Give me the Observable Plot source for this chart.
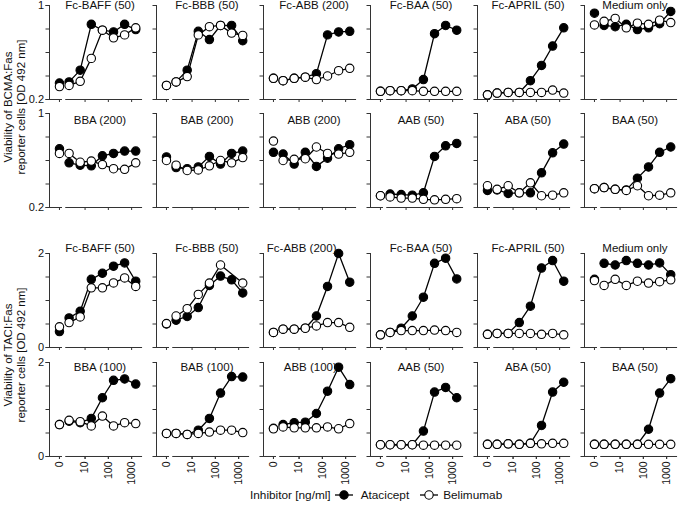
<!DOCTYPE html>
<html><head><meta charset="utf-8">
<script src="https://cdn.jsdelivr.net/npm/d3@7"></script>
<script src="https://cdn.jsdelivr.net/npm/@observablehq/plot@0.6"></script>
<style>
body{margin:0;background:#fff;font-family:"Liberation Sans",Arial,sans-serif;color:#111;}
#wrap{position:relative;width:683px;height:505px;overflow:hidden;}
#wrap svg{display:block;}
.ytitle{position:absolute;transform:translate(-50%,-50%) rotate(-90deg);font-size:11.5px;line-height:12.5px;text-align:center;white-space:nowrap;}
#legend{position:absolute;left:250px;top:488px;display:flex;align-items:center;font-size:11.8px;white-space:nowrap;}
#legend svg{display:inline-block;vertical-align:middle;}
</style></head>
<body><div id="wrap"></div>
<script>
// ---------- data ----------
const concentrations = [0, 2.06, 6.17, 18.5, 55.6, 167, 500, 1500]; // ng/ml
const xTickValues = [0, 10, 100, 1000];
const xTickLabels = ["0", "10", "100", "1000"];
const seriesNames = ["Atacicept", "Belimumab"];

const bcmaPanels = ["Fc-BAFF (50)", "Fc-BBB (50)", "Fc-ABB (200)", "Fc-BAA (50)", "Fc-APRIL (50)", "Medium only",
                    "BBA (200)", "BAB (200)", "ABB (200)", "AAB (50)", "ABA (50)", "BAA (50)"];
const taciPanels = ["Fc-BAFF (50)", "Fc-BBB (50)", "Fc-ABB (200)", "Fc-BAA (50)", "Fc-APRIL (50)", "Medium only",
                    "BBA (100)", "BAB (100)", "ABB (100)", "AAB (50)", "ABA (50)", "BAA (50)"];

const bcmaAtacicept = [
  [0.34, 0.35, 0.45, 0.84, 0.79, 0.775, 0.84, 0.795],
  [0.32, 0.35, 0.45, 0.78, 0.71, 0.83, 0.83, 0.70],
  [0.38, 0.36, 0.38, 0.39, 0.42, 0.75, 0.775, 0.78],
  [0.27, 0.275, 0.275, 0.29, 0.37, 0.76, 0.83, 0.79],
  [0.24, 0.255, 0.26, 0.26, 0.36, 0.49, 0.655, 0.81],
  [0.935, 0.83, 0.82, 0.84, 0.795, 0.81, 0.845, 0.95],
  [0.70, 0.58, 0.56, 0.555, 0.64, 0.66, 0.68, 0.68],
  [0.63, 0.54, 0.53, 0.545, 0.635, 0.57, 0.66, 0.68],
  [0.67, 0.655, 0.57, 0.67, 0.55, 0.62, 0.70, 0.735],
  [0.30, 0.315, 0.31, 0.305, 0.325, 0.635, 0.725, 0.745],
  [0.345, 0.35, 0.32, 0.325, 0.325, 0.495, 0.665, 0.74],
  [0.36, 0.37, 0.355, 0.35, 0.45, 0.545, 0.67, 0.715]
];
const bcmaBelimumab = [
  [0.31, 0.32, 0.355, 0.55, 0.79, 0.725, 0.75, 0.81],
  [0.32, 0.35, 0.395, 0.75, 0.82, 0.83, 0.765, 0.745],
  [0.38, 0.36, 0.38, 0.39, 0.37, 0.40, 0.445, 0.465],
  [0.27, 0.275, 0.275, 0.275, 0.27, 0.27, 0.27, 0.27],
  [0.24, 0.255, 0.26, 0.26, 0.26, 0.26, 0.28, 0.255],
  [0.835, 0.865, 0.89, 0.81, 0.85, 0.84, 0.875, 0.855],
  [0.66, 0.66, 0.585, 0.595, 0.565, 0.53, 0.525, 0.58],
  [0.60, 0.56, 0.515, 0.52, 0.555, 0.60, 0.58, 0.625],
  [0.765, 0.60, 0.61, 0.615, 0.715, 0.66, 0.655, 0.67],
  [0.30, 0.29, 0.28, 0.28, 0.27, 0.265, 0.27, 0.275],
  [0.385, 0.355, 0.385, 0.325, 0.41, 0.30, 0.305, 0.325],
  [0.36, 0.37, 0.355, 0.345, 0.385, 0.30, 0.305, 0.325]
];
const taciAtacicept = [
  [0.34, 0.63, 0.77, 1.45, 1.58, 1.73, 1.80, 1.41],
  [0.50, 0.58, 0.66, 0.85, 1.32, 1.52, 1.44, 1.16],
  [0.32, 0.39, 0.39, 0.41, 0.67, 1.30, 2.00, 1.39],
  [0.27, 0.32, 0.41, 0.67, 1.07, 1.79, 1.90, 1.46],
  [0.28, 0.30, 0.30, 0.53, 0.88, 1.69, 1.85, 1.41],
  [1.45, 1.79, 1.755, 1.85, 1.79, 1.755, 1.80, 1.55],
  [0.68, 0.75, 0.72, 0.81, 1.25, 1.62, 1.65, 1.54],
  [0.49, 0.49, 0.47, 0.56, 0.81, 1.35, 1.70, 1.69],
  [0.60, 0.68, 0.72, 0.73, 0.915, 1.39, 1.90, 1.53],
  [0.25, 0.25, 0.25, 0.25, 0.54, 1.37, 1.47, 1.25],
  [0.26, 0.26, 0.27, 0.26, 0.28, 0.66, 1.37, 1.58],
  [0.26, 0.26, 0.26, 0.26, 0.26, 0.58, 1.35, 1.655]
];
const taciBelimumab = [
  [0.44, 0.53, 0.65, 1.27, 1.27, 1.375, 1.48, 1.30],
  [0.51, 0.67, 0.825, 1.13, 1.37, 1.755, null, 1.37],
  [0.32, 0.39, 0.39, 0.41, 0.46, 0.53, 0.53, 0.43],
  [0.27, 0.32, 0.36, 0.36, 0.36, 0.37, 0.36, 0.32],
  [0.28, 0.30, 0.30, 0.30, 0.30, 0.28, 0.30, 0.27],
  [1.425, 1.32, 1.45, 1.32, 1.41, 1.37, 1.40, 1.44],
  [0.68, 0.77, 0.74, 0.65, 0.86, 0.65, 0.72, 0.70],
  [0.49, 0.49, 0.47, 0.49, 0.52, 0.56, 0.56, 0.51],
  [0.59, 0.63, 0.61, 0.61, 0.61, 0.63, 0.59, 0.70],
  [0.25, 0.25, 0.25, 0.25, 0.24, 0.24, 0.24, 0.24],
  [0.26, 0.26, 0.27, 0.26, 0.28, 0.27, 0.28, 0.28],
  [0.26, 0.26, 0.26, 0.26, 0.26, 0.26, 0.26, 0.26]
];

const bcmaYTicks = [0.2, 0.4, 0.6, 0.8, 1];
const bcmaYLabelTicks = [0.2, 1];
const bcmaYLabels = ["0.2", "1"];
const taciYTicks = [0, 0.5, 1, 1.5, 2];
const taciYLabelTicks = [0, 2];
const taciYLabels = ["0", "2"];

// ---------- layout constants ----------
const ZERO_POS = -0.1;          // where the "0" concentration sits on the log axis
const X0 = -0.528, X1 = 3.51;   // x domain (log10 units)
const TITLE_X = 1.64;
const AXIS = "#333";
const xPos = c => c === 0 ? ZERO_POS : Math.log10(c);

function buildRows(panels, ata, beli) {
  const rows = [];
  panels.forEach((name, p) => {
    const row = Math.floor(p / 6), col = p % 6;
    [[seriesNames[0], ata[p]], [seriesNames[1], beli[p]]].forEach(([s, vals]) => {
      vals.forEach((v, i) => rows.push({panel: name, row, col, series: s, c: concentrations[i], v}));
    });
  });
  return rows;
}

function panelPlot(o) {
  const rows = o.rows;
  const yMin = o.yDomain[0];
  const labelMap = new Map(o.yLabelTicks.map((t, i) => [t, o.yLabels[i]]));
  const xTickPos = xTickValues.map(xPos);
  const xLabelMap = new Map(xTickPos.map((t, i) => [t, xTickLabels[i]]));
  const isFirst = d => d.c === 0 && d.series === seriesNames[0];
  const marks = [
    Plot.ruleX([X0], {x: d => d, stroke: AXIS, strokeWidth: 1}),
    Plot.ruleY([yMin], {y: d => d, x1: () => X0, x2: () => 0.03, stroke: AXIS, strokeWidth: 1}),
    Plot.ruleY([yMin], {y: d => d, x1: () => 0.17, x2: () => 3.47, stroke: AXIS, strokeWidth: 1}),
    Plot.axisY({ticks: o.yTicks, tickSize: 3.5, tickFormat: () => "", facetAnchor: null, label: null, stroke: AXIS}),
    Plot.axisY({ticks: o.yLabelTicks, tickSize: 3.5, tickPadding: 2, tickFormat: d => labelMap.get(d), facetAnchor: "left", label: null, stroke: AXIS, fontSize: 11}),
    Plot.axisX({ticks: xTickPos, tickSize: 3, tickFormat: () => "", facetAnchor: null, label: null, stroke: AXIS})
  ];
  if (o.showXLabels) {
    marks.push(Plot.axisX({ticks: xTickPos, tickSize: 3, tickPadding: 2, tickRotate: -90, tickFormat: d => xLabelMap.get(d), facetAnchor: "bottom", label: null, stroke: AXIS, fontSize: 10.5}));
  }
  seriesNames.forEach((s, k) => {
    marks.push(Plot.line(rows, {filter: d => d.series === s && d.c > 0 && d.v != null, x: d => xPos(d.c), y: "v", stroke: "black", strokeWidth: 1.3}));
    marks.push(Plot.dot(rows, {filter: d => d.series === s && d.v != null, x: d => xPos(d.c), y: "v", r: 4.2,
      fill: k === 0 ? "black" : "white", stroke: "black", strokeWidth: 1.1}));
  });
  [0, 1].forEach(r => {
    marks.push(Plot.text(rows, {filter: d => isFirst(d) && d.row === r,
      x: d => TITLE_X + (o.nudge[r + "|" + d.panel] || 0), text: "panel",
      frameAnchor: "top", dy: o.titleDy[r], lineAnchor: "middle", fontSize: 11.5, fill: "#111"}));
  });
  return Plot.plot({
    width: 683, height: o.height,
    marginLeft: 47, marginRight: 2, marginTop: o.marginTop, marginBottom: o.marginBottom,
    style: {fontFamily: "'Liberation Sans', Arial, sans-serif", fontSize: "11px", color: "#111", background: "white"},
    facet: {data: rows, x: "col", y: "row"},
    fx: {domain: [0, 1, 2, 3, 4, 5], paddingInner: 0.119, paddingOuter: 0, axis: null},
    fy: {domain: [0, 1], paddingInner: o.padY, paddingOuter: 0, axis: null},
    x: {domain: [X0, X1], axis: null},
    y: {domain: o.yDomain, axis: null},
    marks
  });
}

const wrap = document.getElementById("wrap");
wrap.appendChild(panelPlot({
  rows: buildRows(bcmaPanels, bcmaAtacicept, bcmaBelimumab),
  yDomain: [0.2, 1], yTicks: bcmaYTicks, yLabelTicks: bcmaYLabelTicks, yLabels: bcmaYLabels,
  height: 225, marginTop: 5, marginBottom: 17, padY: 0.129,
  titleDy: [-0.3, 7], nudge: {}, showXLabels: false
}));
wrap.appendChild(panelPlot({
  rows: buildRows(taciPanels, taciAtacicept, taciBelimumab),
  yDomain: [0, 2], yTicks: taciYTicks, yLabelTicks: taciYLabelTicks, yLabels: taciYLabels,
  height: 262, marginTop: 27.7, marginBottom: 29.7, padY: 0.135,
  titleDy: [-4.7, 5.2], nudge: {"0|Fc-ABB (200)": -0.53, "1|ABB (100)": -0.16}, showXLabels: true
}));

function addYTitle(lines, cx, cy) {
  const d = document.createElement("div");
  d.className = "ytitle";
  d.style.left = cx + "px"; d.style.top = cy + "px";
  d.innerHTML = lines.join("<br>");
  wrap.appendChild(d);
}
addYTitle(["Viability of BCMA:Fas", "reporter cells [OD 492 nm]"], 14, 106.5);
addYTitle(["Viability of TACI:Fas", "reporter cells [OD 492 nm]"], 14, 355);

// legend
const legendTitle = "Inhibitor [ng/ml]";
const lg = document.createElement("div");
lg.id = "legend";
function swatch(fill) {
  return `<svg width="18" height="12"><line x1="0" y1="6" x2="18" y2="6" stroke="black" stroke-width="1.3"/><circle cx="9" cy="6" r="4.2" fill="${fill}" stroke="black" stroke-width="1.1"/></svg>`;
}
lg.innerHTML = `<span>${legendTitle}</span><span style="margin-left:4px;display:flex">${swatch("black")}</span><span style="margin-left:8px">${seriesNames[0]}</span>`
  + `<span style="margin-left:11px;display:flex">${swatch("white")}</span><span style="margin-left:5px">${seriesNames[1]}</span>`;
wrap.appendChild(lg);
</script>
</body></html>
